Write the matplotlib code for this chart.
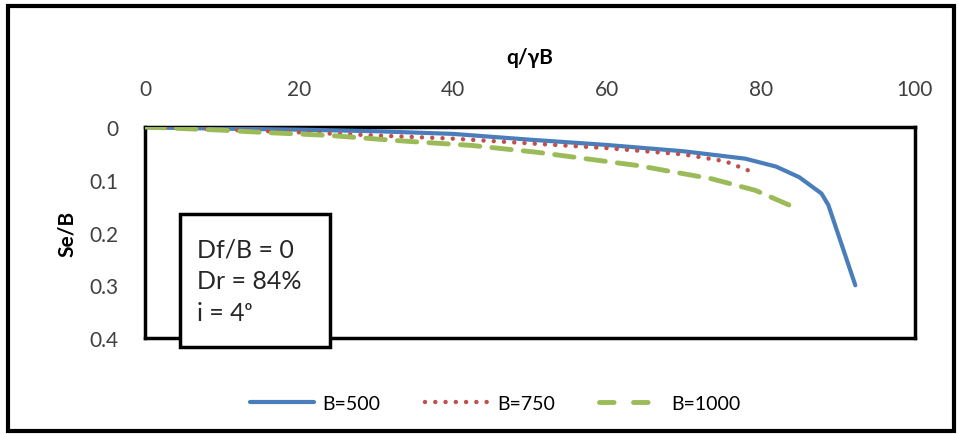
import matplotlib.pyplot as plt
from matplotlib.patches import Rectangle
from matplotlib.lines import Line2D

# Settlement ratio vs. bearing ratio for three footing widths
b500_q = [0, 5, 10, 20, 30, 40, 50, 60, 70, 78, 82, 85, 87.9, 88.8, 92.3]
b500_s = [0, 0.002, 0.003, 0.005, 0.008, 0.013, 0.024, 0.034, 0.046, 0.06, 0.075, 0.095, 0.126, 0.148, 0.30]

b750_q = [0, 5, 10, 20, 30, 40, 50, 60, 70, 75.4, 79.2]
b750_s = [0, 0.002, 0.005, 0.010, 0.016, 0.022, 0.031, 0.040, 0.052, 0.065, 0.087]

b1000_q = [0, 5, 10, 15, 24, 33, 42.5, 51, 64, 73.6, 79.3, 84.5]
b1000_s = [0, 0.003, 0.006, 0.010, 0.016, 0.026, 0.035, 0.048, 0.073, 0.098, 0.12, 0.153]

labels = ["B=500", "B=750", "B=1000"]
x_ticks = [0, 20, 40, 60, 80, 100]
y_ticks = [0, 0.1, 0.2, 0.3, 0.4]
y_ticklabels = ["0", "0.1", "0.2", "0.3", "0.4"]

BLUE, RED, GREEN = "#4A7EBB", "#C0504D", "#9BBB59"

plt.rcParams['font.family'] = ['Lato', 'DejaVu Sans']

fig = plt.figure(figsize=(9.62, 4.35), dpi=100)
ax = fig.add_axes([0.1507, 0.2207, 0.800, 0.485])

ax.plot(b500_q, b500_s, color=BLUE, lw=3, solid_capstyle='round', zorder=3)
ax.plot(b750_q, b750_s, color=RED, lw=3.2, linestyle=(0, (0.01, 2.3)),
        dash_capstyle='round', zorder=3)
ax.plot(b1000_q, b1000_s, color=GREEN, lw=3.5, linestyle=(0, (4, 2.5)),
        dash_capstyle='round', zorder=3)

ax.set_xlim(0, 100)
ax.set_ylim(0.4, 0)
ax.set_xticks(x_ticks)
ax.set_yticks(y_ticks)
ax.set_yticklabels(y_ticklabels)
ax.xaxis.tick_top()
ax.xaxis.set_label_position('top')
ax.tick_params(length=0, labelsize=15, colors="#404040")
ax.tick_params(axis='x', pad=20)
ax.tick_params(axis='y', pad=19)
for s in ax.spines.values():
    s.set_linewidth(2.5)
    s.set_color("black")

ax.set_xlabel("q/γB", fontsize=15, fontweight='bold', labelpad=12)
ax.set_ylabel("Se/B", fontsize=15, fontweight='bold', labelpad=9)

# Test conditions box
fig.patches.append(Rectangle((0.187, 0.2), 0.156, 0.306, transform=fig.transFigure,
                             fc='white', ec='black', lw=2.5, zorder=5))
fig.text(0.205, 0.352, "Df/B = 0\nDr = 84%\ni = 4ᵒ", fontsize=18, color="#262626",
         linespacing=1.45, va='center', ha='left', zorder=6)

# legend keys drawn as proxies so the green key shows two clean dashes
keys = [
    Line2D([], [], color=BLUE, lw=3, solid_capstyle='round'),
    Line2D([], [], color=RED, lw=3.2, linestyle=(0, (0.01, 2.3)), dash_capstyle='round'),
    Line2D([], [], color=GREEN, lw=3.5, linestyle=(0, (3, 4)), dash_capstyle='round'),
]
fig.legend(keys, labels, loc='center', bbox_to_anchor=(0.515, 0.07), ncol=3, frameon=False,
           fontsize=14, handlelength=3.3, columnspacing=2.3, handletextpad=0.4)

# outer frame
fig.patches.append(Rectangle((0.008, 0.008), 0.984, 0.975, transform=fig.transFigure,
                             fill=False, ec='black', lw=3))

fig.savefig("out.png", dpi=100)
